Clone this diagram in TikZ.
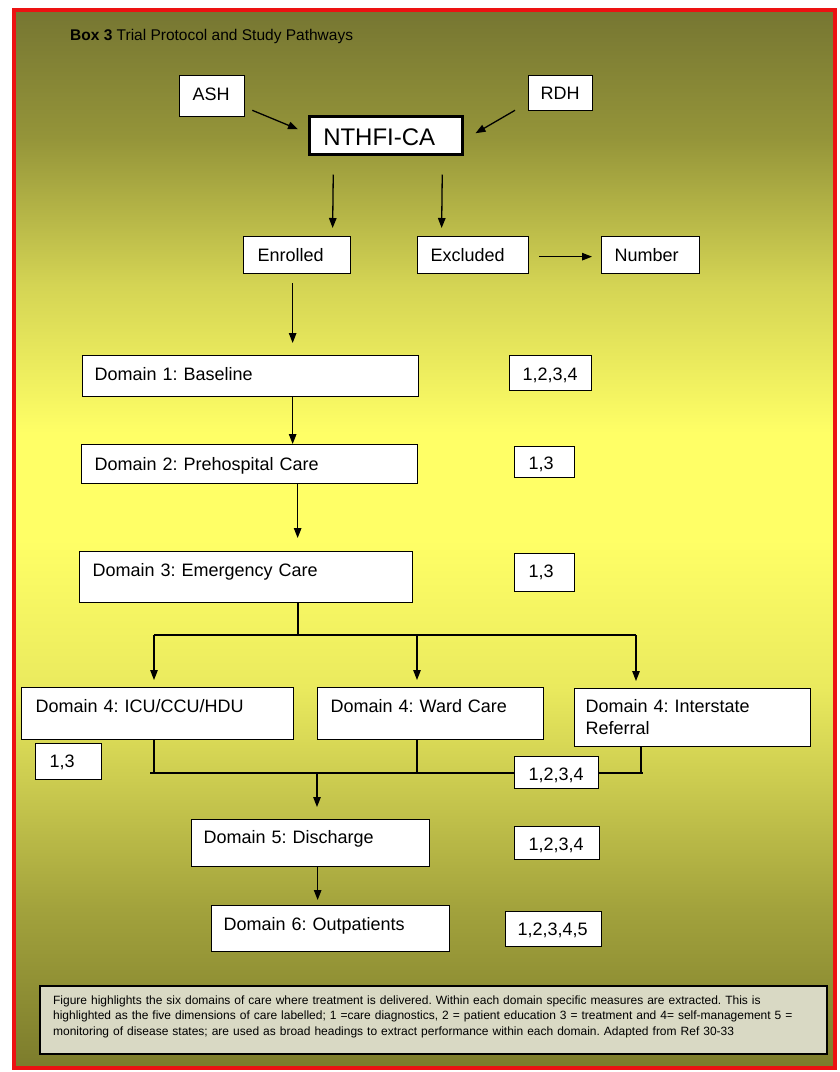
\documentclass[tikz,border=0pt]{standalone}
\usepackage{fontspec}
\setmainfont{Liberation Sans}
\usetikzlibrary{arrows.meta,calc}
\definecolor{olivetop}{RGB}{118,118,50}
\definecolor{olivemid}{RGB}{162,162,60}
\definecolor{oliveup}{RGB}{148,148,57}
\definecolor{olivebot}{RGB}{124,124,44}
\definecolor{paleyel}{RGB}{234,234,94}
\definecolor{dullyel}{RGB}{212,212,84}
\definecolor{lightyel}{RGB}{255,255,102}
\definecolor{notegray}{RGB}{217,217,196}
\definecolor{redframe}{RGB}{236,18,18}
\frenchspacing
% the path fills the middle half (25bp to 75bp) of the shading
\pgfdeclareverticalshading{boxbg}{100bp}{color(0bp)=(olivebot); color(25bp)=(olivebot);
  color(32.5bp)=(olivemid); color(43bp)=(paleyel); color(50bp)=(lightyel); color(55bp)=(lightyel);
  color(62bp)=(dullyel); color(69bp)=(oliveup); color(75bp)=(olivetop); color(100bp)=(olivetop)}

\tikzset{
  dbox/.style={draw, fill=white, line width=1.3pt, anchor=north west, inner ysep=0pt,
    align=left, font=\fontsize{18}{22}\selectfont},
  conn/.style={line width=1.3pt, -{Triangle[length=10pt,width=7.5pt]}},
  link/.style={line width=1.3pt},
}

\begin{document}
\begin{tikzpicture}[x=1pt,y=-1pt]
	\useasboundingbox (0,0) rectangle (840,1072);
	% background and frame
	\shade[shading=boxbg] (14,10) rectangle (835,1068);
	\draw[redframe, line width=4pt] (14,10) rectangle (835,1068);

	\node (title) [anchor=base west, inner sep=0pt, font=\fontsize{15.5}{18}\selectfont] at (70,40) {\textbf{Box 3} Trial Protocol and Study Pathways};

	% sites and enrolment
	\node (ash) [dbox, inner xsep=13pt, text width=39pt, text height=24.5pt, text depth=16.5pt] at (179,75) {ASH};
	\node (rdh) [dbox, inner xsep=12pt, text width=40pt, text height=24pt, text depth=11pt] at (528,75) {RDH};
	\node (nthfi) [dbox, line width=2.5pt, font=\fontsize{24}{28}\selectfont, inner xsep=14pt, text width=125pt, text height=29pt, text depth=9pt] at (308,115) {NTHFI-CA};
	\node (enr) [dbox, inner xsep=14pt, text width=79pt, text height=24.5pt, text depth=12.5pt] at (243,236) {Enrolled};
	\node (exc) [dbox, inner xsep=13pt, text width=85pt, text height=24.5pt, text depth=12.5pt] at (417,236) {Excluded};
	\node (num) [dbox, inner xsep=13pt, text width=72pt, text height=24.5pt, text depth=12.5pt] at (601,236) {Number};

	% domains and measures
	\node (d1) [dbox, inner xsep=12pt, text width=312pt, text height=24.5pt, text depth=16.5pt] at (82,355) {Domain 1: Baseline};
	\node (m1) [dbox, inner xsep=13pt, text width=56pt, text height=24.5pt, text depth=10.5pt] at (509,355) {1,2,3,4};
	\node (d2) [dbox, inner xsep=13pt, text width=310pt, text height=25.5pt, text depth=13.5pt] at (81,444) {Domain 2: Prehospital Care};
	\node (m2) [dbox, inner xsep=14pt, text width=32pt, text height=22.5pt, text depth=8.5pt] at (514,446) {1,3};
	\node (d3) [dbox, inner xsep=13pt, text width=307pt, text height=24.5pt, text depth=26.5pt] at (79,551) {Domain 3: Emergency Care};
	\node (m3) [dbox, inner xsep=14pt, text width=32pt, text height=24pt, text depth=14pt] at (514,553) {1,3};
	\node (d4a) [dbox, inner xsep=14pt, text width=244pt, text height=24.5pt, text depth=27.5pt] at (21,687) {Domain 4: ICU/CCU/HDU};
	\node (d4b) [dbox, inner xsep=13pt, text width=200pt, text height=24.5pt, text depth=27.5pt] at (317,687) {Domain 4: Ward Care};
	\node (d4c) [dbox, inner xsep=11pt, text width=214pt, text height=23.5pt, text depth=34.5pt] at (574,688) {Domain 4: Interstate\\Referral};
	\node (m4) [dbox, inner xsep=14pt, text width=38pt, text height=23.5pt, text depth=12.5pt] at (35,743) {1,3};
	\node (d5) [dbox, inner xsep=12pt, text width=214pt, text height=23.5pt, text depth=23.5pt] at (191,819) {Domain 5: Discharge};
	\node (m6) [dbox, inner xsep=14pt, text width=57pt, text height=23.5pt, text depth=9.5pt] at (514,826) {1,2,3,4};
	\node (d6) [dbox, inner xsep=12pt, text width=214pt, text height=24.5pt, text depth=21.5pt] at (211,905) {Domain 6: Outpatients};
	\node (m7) [dbox, inner xsep=12pt, text width=72pt, text height=23.5pt, text depth=11.5pt] at (505,911) {1,2,3,4,5};

	\node (note) [dbox, fill=notegray, line width=2.2pt, font=\fontsize{12}{15.5}\selectfont, inner xsep=13pt, text width=761pt, text height=18pt, text depth=50pt] at (39,985)
		{Figure highlights the six domains of care where treatment is delivered. Within each domain specific measures are extracted. This is\\
		 highlighted as the five dimensions of care labelled; 1 =care diagnostics, 2 = patient education 3 = treatment and 4= self-management 5 =\\
		 monitoring of disease states; are used as broad headings to extract performance within each domain. Adapted from Ref 30-33};

	% arrows at the top
	\draw[conn] ([shift={(7,-7)}]ash.south east) -- ([shift={(-10,-6)}]nthfi.west);
	\draw[conn] ([shift={(-13,-1)}]rdh.south west) -- ([shift={(12,-2)}]nthfi.east);
	\draw[conn] ([shift={(-52.5,19)}]nthfi.south) -- ([shift={(35.5,-8)}]enr.north);
	\draw[conn] ([shift={(56.5,19)}]nthfi.south) -- ([shift={(-31.5,-8)}]exc.north);
	\draw[conn] ([shift={(10,1.5)}]exc.east) -- ([shift={(-9,1.5)}]num.west);

	% down the domains
	\draw[conn] ($(enr.south)+(-4.5,9)$) -- ($(d1.north)+(42,-12)$);
	\draw[conn] ($(d1.south)+(42,0)$) -- ($(d2.north)+(43,0)$);
	\draw[conn] ($(d2.south)+(48,0)$) -- ($(d3.north)+(51.5,-13)$);

	% split into domain 4
	\coordinate (split) at (298,635);
	\coordinate (splitL) at (154,635);
	\coordinate (splitM) at (417,635);
	\coordinate (splitR) at (636,635);
	\draw[link] (split |- d3.south) -- (split);
	\draw[link] (splitL) -- (splitR);
	\draw[conn] (splitL) -- ($(splitL |- d4a.north)+(0,-7)$);
	\draw[conn] (splitM) -- ($(splitM |- d4b.north)+(0,-7)$);
	\draw[conn] (splitR) -- ($(splitR |- d4c.north)+(0,-7)$);

	% join again
	\coordinate (joinA) at (154,773);
	\coordinate (joinB) at (417,773);
	\coordinate (joinC) at (641,773);
	\coordinate (join) at (317,773);
	\draw[link] (joinA |- d4a.south) -- (joinA);
	\draw[link] (joinB |- d4b.south) -- (joinB);
	\draw[link] (joinC |- d4c.south) -- (joinC);
	\draw[link] ($(joinA)+(-4,0)$) -- ($(joinC)+(2,0)$);
	\draw[conn] (join) -- ($(join |- d5.north)+(0,-12)$);
	\node (m5) [dbox, inner xsep=14pt, text width=56pt, text height=23.5pt, text depth=8.5pt] at (514,756) {1,2,3,4};
	\draw[conn] ($(d5.south)+(7,0)$) -- ($(d6.north)+(-13,-5)$);
\end{tikzpicture}
\end{document}
